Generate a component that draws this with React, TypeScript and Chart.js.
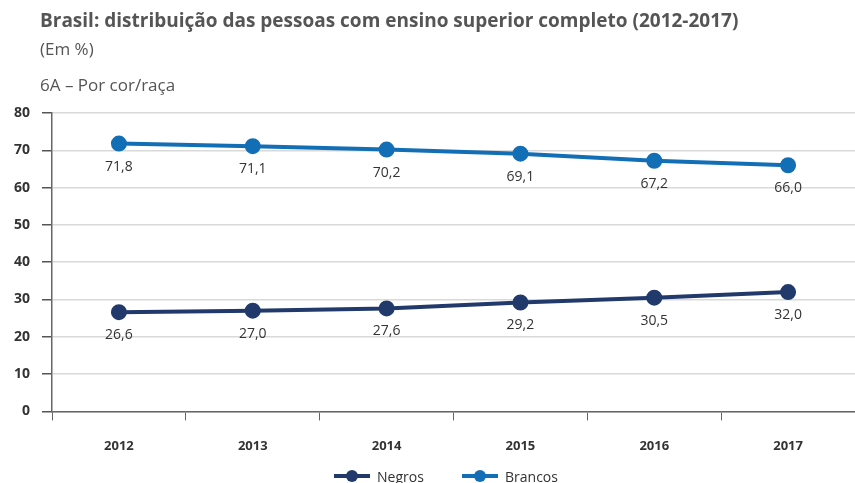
import React, { useEffect, useRef } from "react";
import { Chart, registerables } from "chart.js";

Chart.register(...registerables);

const years = ["2012", "2013", "2014", "2015", "2016", "2017"];
const negros = [26.6, 27.0, 27.6, 29.2, 30.5, 32.0];
const brancos = [71.8, 71.1, 70.2, 69.1, 67.2, 66.0];
const yTicks = [0, 10, 20, 30, 40, 50, 60, 70, 80];
const seriesNames = ["Negros", "Brancos"];

const NAVY = "#213a6b";
const BLUE = "#136fb5";
const TEXT = "#333333";
const FONT = "'Open Sans', sans-serif";

const valueLabels = {
  id: "valueLabels",
  afterDatasetsDraw(chart: any) {
    const ctx = chart.ctx;
    ctx.save();
    ctx.font = "14px " + FONT;
    ctx.fillStyle = TEXT;
    ctx.textAlign = "center";
    ctx.textBaseline = "middle";
    chart.data.datasets.forEach((ds: any, i: number) => {
      const meta = chart.getDatasetMeta(i);
      meta.data.forEach((pt: any, j: number) => {
        const v = ds.data[j] as number;
        ctx.fillText(v.toFixed(1).replace(".", ","), pt.x, pt.y + 23);
      });
    });
    ctx.restore();
  },
};

function LegendItem({ color, label, left }: { color: string; label: string; left: number }) {
  return (
    <div style={{ position: "absolute", left, top: 466, height: 20, display: "flex", alignItems: "center", whiteSpace: "nowrap" }}>
      <svg width={36} height={14} style={{ display: "block" }}>
        <line x1={0} y1={7} x2={36} y2={7} stroke={color} strokeWidth={4} />
        <circle cx={18} cy={7} r={6} fill={color} />
      </svg>
      <span style={{ marginLeft: 7, fontSize: 14, color: TEXT, fontFamily: FONT }}>{label}</span>
    </div>
  );
}

export default function App() {
  const ref = useRef<HTMLCanvasElement>(null);
  useEffect(() => {
    if (!ref.current) return;
    const chart = new Chart(ref.current, {
      type: "line",
      data: {
        labels: years,
        datasets: [
          {
            label: seriesNames[0],
            data: negros,
            borderColor: NAVY,
            backgroundColor: NAVY,
            borderWidth: 4,
            pointRadius: 6,
            pointHoverRadius: 6,
          },
          {
            label: seriesNames[1],
            data: brancos,
            borderColor: BLUE,
            backgroundColor: BLUE,
            borderWidth: 4,
            pointRadius: 6,
            pointHoverRadius: 6,
          },
        ],
      },
      options: {
        animation: false,
        responsive: false,
        layout: { autoPadding: false, padding: { top: 113, left: 2, right: 0, bottom: 11 } },
        plugins: {
          tooltip: { enabled: false },
          legend: { display: false },
        },
        scales: {
          x: {
            type: "category",
            offset: true,
            afterFit: (axis: any) => {
              axis.paddingRight = 0;
              axis.paddingLeft = 0;
            },
            grid: {
              offset: true,
              drawOnChartArea: false,
              drawTicks: true,
              tickLength: 9,
              tickColor: "#666",
            },
            border: { color: "#666", width: 1.5 },
            ticks: {
              color: TEXT,
              font: { size: 13, weight: "bold", family: FONT },
              padding: 18,
            },
          },
          y: {
            min: 0,
            max: 80,
            afterBuildTicks: (axis: any) => {
              axis.ticks = yTicks.map((v) => ({ value: v }));
            },
            grid: {
              color: "#d9d9d9",
              lineWidth: 1.5,
              tickLength: 10,
              tickColor: "#555",
            },
            border: { color: "#666", width: 1.5 },
            ticks: {
              color: TEXT,
              font: { size: 14, weight: "bold", family: FONT },
              padding: 12,
            },
          },
        },
      },
      plugins: [valueLabels],
    });
    return () => chart.destroy();
  }, []);

  return (
    <div style={{ position: "fixed", left: 0, top: 0, width: 855, height: 483, background: "#fff", fontFamily: FONT }}>
      <canvas ref={ref} width={855} height={483} style={{ position: "absolute", left: 0, top: 0 }} />
      <div style={{ position: "absolute", left: 40, top: 7, fontSize: 19, fontWeight: "bold", color: "#555", whiteSpace: "nowrap" }}>
        Brasil: distribuição das pessoas com ensino superior completo (2012-2017)
      </div>
      <div style={{ position: "absolute", left: 40, top: 37, fontSize: 17, color: "#555", whiteSpace: "nowrap" }}>
        (Em %)
      </div>
      <div style={{ position: "absolute", left: 40, top: 73, fontSize: 17, color: "#555", whiteSpace: "nowrap" }}>
        6A – Por cor/raça
      </div>
      <LegendItem color={NAVY} label={seriesNames[0]} left={334} />
      <LegendItem color={BLUE} label={seriesNames[1]} left={462} />
    </div>
  );
}
